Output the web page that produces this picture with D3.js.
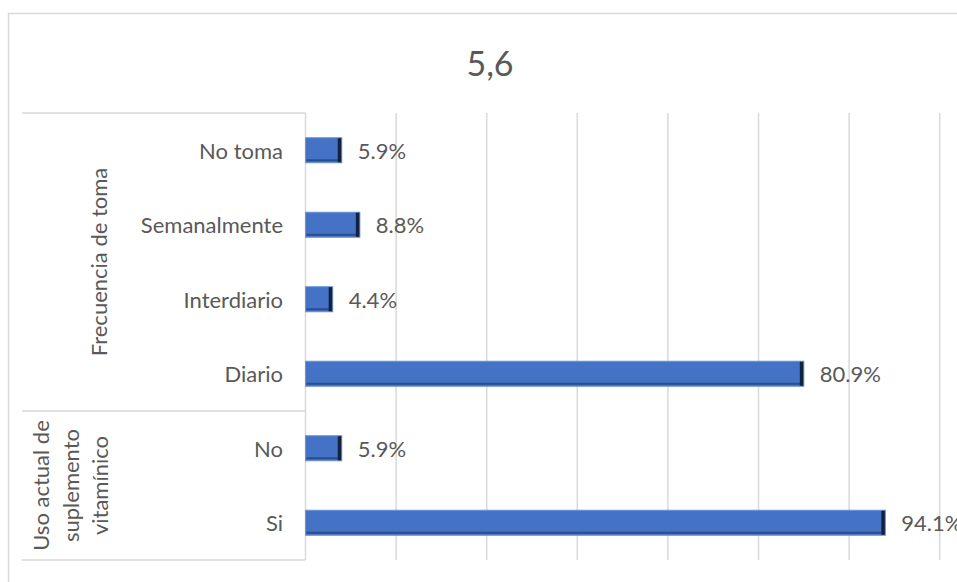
<!DOCTYPE html>
<html>
<head>
<meta charset="utf-8">
<script src="https://cdn.jsdelivr.net/npm/d3@7"></script>
<style>
  html, body { margin: 0; padding: 0; background: #fff; }
  svg { display: block; }
  text { font-family: Lato, "Open Sans", sans-serif; fill: #595959; }
</style>
</head>
<body>
<svg id="chart" width="957" height="582"></svg>
<script>
// ---- data ----
const title = "5,6";
const categories = ["No toma", "Semanalmente", "Interdiario", "Diario", "No", "Si"];
const categoryGroup = [0, 0, 0, 0, 1, 1];
const groupLabels = [["Frecuencia de toma"], ["Uso actual de", "suplemento", "vitamínico"]];
const counts = [4, 6, 3, 55, 4, 64];          // n = 68
const valueLabels = ["5.9%", "8.8%", "4.4%", "80.9%", "5.9%", "94.1%"];
const xTicks = [0, 10, 20, 30, 40, 50, 60, 70];

// ---- layout ----
const W = 957, H = 582;
const plot = { left: 305.5, right: 939.7, top: 113, bottom: 560 };
const labelBoxLeft = 22;
const gridColor = "#d9d9d9";

const svg = d3.select("#chart");

// outer chart border (extends beyond the visible window)
svg.append("rect")
  .attr("x", 8.5).attr("y", 13.5)
  .attr("width", 1000).attr("height", 700)
  .attr("fill", "#fff").attr("stroke", gridColor).attr("stroke-width", 1.5);

// title
svg.append("text")
  .attr("x", 490).attr("y", 62)
  .attr("text-anchor", "middle").attr("dominant-baseline", "central")
  .style("font-size", "34px")
  .text(title);

const x = d3.scaleLinear().domain([0, 70]).range([plot.left, plot.right]);
const y = d3.scaleBand().domain(categories).range([plot.top, plot.bottom])
  .paddingInner(0.664).paddingOuter(0.332);

// gridlines
svg.append("g").selectAll("line")
  .data(xTicks.slice(1))
  .join("line")
  .attr("x1", d => x(d)).attr("x2", d => x(d))
  .attr("y1", plot.top).attr("y2", plot.bottom)
  .attr("stroke", gridColor).attr("stroke-width", 1.5);

// category axis box lines
const axisG = svg.append("g").attr("stroke", gridColor).attr("stroke-width", 1.5).attr("fill", "none");
axisG.append("line").attr("x1", x(0)).attr("x2", x(0)).attr("y1", plot.top).attr("y2", plot.bottom);
axisG.append("line").attr("x1", labelBoxLeft).attr("x2", x(0)).attr("y1", plot.top).attr("y2", plot.top);
axisG.append("line").attr("x1", labelBoxLeft).attr("x2", x(0)).attr("y1", plot.bottom).attr("y2", plot.bottom);

// group boundaries
const groupIdx = [...new Set(categoryGroup)];
const groupRange = groupIdx.map(g => {
  const cats = categories.filter((c, i) => categoryGroup[i] === g);
  const first = cats[0], last = cats[cats.length - 1];
  const y0 = y(first) - y.step() * y.paddingInner() / 2;
  const y1 = y(last) + y.bandwidth() + y.step() * y.paddingInner() / 2;
  return { g, y0, y1 };
});
groupRange.slice(0, -1).forEach(r => {
  axisG.append("line").attr("x1", labelBoxLeft).attr("x2", x(0)).attr("y1", r.y1).attr("y2", r.y1);
});

// category labels
svg.append("g").selectAll("text")
  .data(categories)
  .join("text")
  .attr("x", 283)
  .attr("y", d => y(d) + y.bandwidth() / 2)
  .attr("text-anchor", "end").attr("dominant-baseline", "central")
  .style("font-size", "22px")
  .text(d => d);

// group labels (rotated)
const groupX = [[98], [40, 70, 99]];
groupRange.forEach((r, gi) => {
  const cy = (r.y0 + r.y1) / 2;
  groupLabels[gi].forEach((line, li) => {
    svg.append("text")
      .attr("transform", `translate(${groupX[gi][li]},${cy}) rotate(-90)`)
      .attr("text-anchor", "middle").attr("dominant-baseline", "central")
      .style("font-size", "22px")
      .text(line);
  });
});

// bars
const bars = svg.append("g").selectAll("g")
  .data(categories.map((c, i) => ({ c, v: counts[i], lab: valueLabels[i] })))
  .join("g");

bars.append("rect")
  .attr("x", x(0)).attr("y", d => y(d.c))
  .attr("width", d => x(d.v) - x(0)).attr("height", y.bandwidth())
  .attr("fill", "#4472c4").attr("stroke", "#6a93d8").attr("stroke-width", 1);
bars.append("rect")
  .attr("x", x(0) + 1).attr("y", d => y(d.c) + y.bandwidth() - 3.5)
  .attr("width", d => x(d.v) - x(0) - 2).attr("height", 2)
  .attr("fill", "#2c4d8a");
bars.append("rect")
  .attr("x", d => x(d.v) - 4).attr("y", d => y(d.c) + 0.5)
  .attr("width", 3.5).attr("height", y.bandwidth() - 1)
  .attr("fill", "#13233f");

// value labels
bars.append("text")
  .attr("x", d => x(d.v) + 16)
  .attr("y", d => y(d.c) + y.bandwidth() / 2)
  .attr("dominant-baseline", "central")
  .style("font-size", "22px")
  .text(d => d.lab);
</script>
</body>
</html>
